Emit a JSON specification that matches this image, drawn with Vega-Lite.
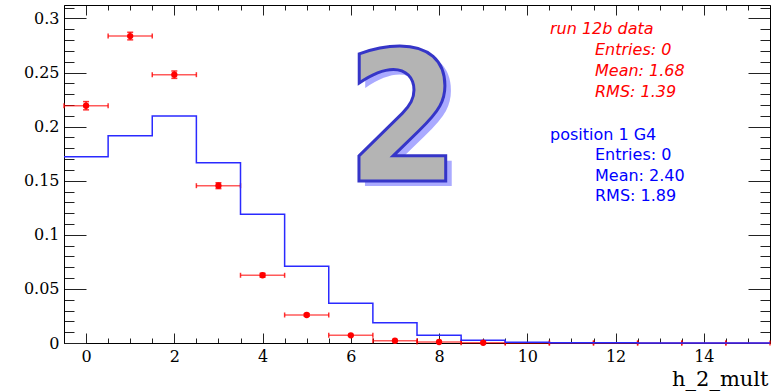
{
  "$schema": "https://vega.github.io/schema/vega-lite/v6.json",
  "width": 706,
  "height": 338,
  "autosize": {"type": "none"},
  "padding": {"left": 64, "top": 5, "right": 12, "bottom": 49},
  "background": "white",
  "datasets": {
    "bins": [
      {"bin": 0, "lo": -0.5, "hi": 0.5, "data": 0.2193, "dlo": 0.2155, "dhi": 0.2231, "g4": 0.1722},
      {"bin": 1, "lo": 0.5, "hi": 1.5, "data": 0.2837, "dlo": 0.2802, "dhi": 0.2872, "g4": 0.1916},
      {"bin": 2, "lo": 1.5, "hi": 2.5, "data": 0.2480, "dlo": 0.2446, "dhi": 0.2514, "g4": 0.2098},
      {"bin": 3, "lo": 2.5, "hi": 3.5, "data": 0.1454, "dlo": 0.1427, "dhi": 0.1481, "g4": 0.1666},
      {"bin": 4, "lo": 3.5, "hi": 4.5, "data": 0.0626, "dlo": 0.0608, "dhi": 0.0644, "g4": 0.1189},
      {"bin": 5, "lo": 4.5, "hi": 5.5, "data": 0.0259, "dlo": 0.0247, "dhi": 0.0271, "g4": 0.0709},
      {"bin": 6, "lo": 5.5, "hi": 6.5, "data": 0.0071, "dlo": 0.0065, "dhi": 0.0077, "g4": 0.0367},
      {"bin": 7, "lo": 6.5, "hi": 7.5, "data": 0.0021, "dlo": 0.0018, "dhi": 0.0024, "g4": 0.0188},
      {"bin": 8, "lo": 7.5, "hi": 8.5, "data": 0.0009, "dlo": 0.0007, "dhi": 0.0011, "g4": 0.0071},
      {"bin": 9, "lo": 8.5, "hi": 9.5, "data": 0.0002, "dlo": 0.0001, "dhi": 0.0003, "g4": 0.0025},
      {"bin": 10, "lo": 9.5, "hi": 10.5, "data": 0, "dlo": 0, "dhi": 0, "g4": 0.0007},
      {"bin": 11, "lo": 10.5, "hi": 11.5, "data": 0, "dlo": 0, "dhi": 0, "g4": 0.0003},
      {"bin": 12, "lo": 11.5, "hi": 12.5, "data": 0, "dlo": 0, "dhi": 0, "g4": 0.0002},
      {"bin": 13, "lo": 12.5, "hi": 13.5, "data": 0, "dlo": 0, "dhi": 0, "g4": 0.0001},
      {"bin": 14, "lo": 13.5, "hi": 14.5, "data": 0, "dlo": 0, "dhi": 0, "g4": 0.0001},
      {"bin": 15, "lo": 14.5, "hi": 15.5, "data": 0, "dlo": 0, "dhi": 0, "g4": 0}
    ],
    "one": [{"note": "annotation"}]
  },
  "data": {"name": "bins"},
  "resolve": {"axis": {"x": "independent", "y": "independent"}},
  "layer": [
    {
      "mark": {"type": "rule", "color": "#ff0000", "strokeWidth": 1.5, "opacity": 0.65},
      "encoding": {
        "x": {"field": "lo", "type": "quantitative", "scale": {"domain": [-0.5, 15.5], "nice": false, "zero": false},
          "axis": {"orient": "bottom", "title": null, "labels": false, "domain": false, "tickSize": -5,
            "values": [-0.5, 0, 0.5, 1, 1.5, 2, 2.5, 3, 3.5, 4, 4.5, 5, 5.5, 6, 6.5, 7, 7.5, 8, 8.5, 9, 9.5, 10, 10.5, 11, 11.5, 12, 12.5, 13, 13.5, 14, 14.5, 15, 15.5]}},
        "x2": {"field": "hi"},
        "y": {"field": "data", "type": "quantitative", "scale": {"domain": [0, 0.3124], "nice": false, "zero": false},
          "axis": {"orient": "left", "title": null, "labels": false, "domain": false, "tickSize": -10,
            "values": [0, 0.01, 0.02, 0.03, 0.04, 0.05, 0.06, 0.07, 0.08, 0.09, 0.1, 0.11, 0.12, 0.13, 0.14, 0.15, 0.16, 0.17, 0.18, 0.19, 0.2, 0.21, 0.22, 0.23, 0.24, 0.25, 0.26, 0.27, 0.28, 0.29, 0.3, 0.31]}}
      }
    },
    {
      "mark": {"type": "tick", "orient": "vertical", "color": "#ff0000", "size": 5, "thickness": 1.5, "opacity": 0.8},
      "encoding": {
        "x": {"field": "lo", "type": "quantitative", "scale": {"domain": [-0.5, 15.5], "nice": false, "zero": false},
          "axis": {"orient": "top", "title": null, "labels": false, "domain": false, "tickSize": -5,
            "values": [-0.5, 0, 0.5, 1, 1.5, 2, 2.5, 3, 3.5, 4, 4.5, 5, 5.5, 6, 6.5, 7, 7.5, 8, 8.5, 9, 9.5, 10, 10.5, 11, 11.5, 12, 12.5, 13, 13.5, 14, 14.5, 15, 15.5]}},
        "y": {"field": "data", "type": "quantitative", "scale": {"domain": [0, 0.3124], "nice": false, "zero": false},
          "axis": {"orient": "right", "title": null, "labels": false, "domain": false, "tickSize": -10,
            "values": [0, 0.01, 0.02, 0.03, 0.04, 0.05, 0.06, 0.07, 0.08, 0.09, 0.1, 0.11, 0.12, 0.13, 0.14, 0.15, 0.16, 0.17, 0.18, 0.19, 0.2, 0.21, 0.22, 0.23, 0.24, 0.25, 0.26, 0.27, 0.28, 0.29, 0.3, 0.31]}}
      }
    },
    {
      "mark": {"type": "tick", "orient": "vertical", "color": "#ff0000", "size": 5, "thickness": 1.5, "opacity": 0.8},
      "encoding": {
        "x": {"field": "hi", "type": "quantitative", "scale": {"domain": [-0.5, 15.5], "nice": false, "zero": false}, "axis": null},
        "y": {"field": "data", "type": "quantitative", "scale": {"domain": [0, 0.3124], "nice": false, "zero": false}, "axis": null}
      }
    },
    {
      "transform": [{"filter": "datum.data > 0"}],
      "mark": {"type": "rule", "color": "#ff0000", "strokeWidth": 1.5, "opacity": 0.8},
      "encoding": {
        "x": {"field": "bin", "type": "quantitative", "scale": {"domain": [-0.5, 15.5], "nice": false, "zero": false}, "axis": null},
        "y": {"field": "dlo", "type": "quantitative", "scale": {"domain": [0, 0.3124], "nice": false, "zero": false}, "axis": null},
        "y2": {"field": "dhi"}
      }
    },
    {
      "transform": [{"filter": "datum.data > 0.01"}],
      "mark": {"type": "tick", "orient": "horizontal", "color": "#ff0000", "size": 6, "thickness": 1.5, "opacity": 0.8},
      "encoding": {
        "x": {"field": "bin", "type": "quantitative", "scale": {"domain": [-0.5, 15.5], "nice": false, "zero": false}, "axis": null},
        "y": {"field": "dlo", "type": "quantitative", "scale": {"domain": [0, 0.3124], "nice": false, "zero": false}, "axis": null}
      }
    },
    {
      "transform": [{"filter": "datum.data > 0.01"}],
      "mark": {"type": "tick", "orient": "horizontal", "color": "#ff0000", "size": 6, "thickness": 1.5, "opacity": 0.8},
      "encoding": {
        "x": {"field": "bin", "type": "quantitative", "scale": {"domain": [-0.5, 15.5], "nice": false, "zero": false}, "axis": null},
        "y": {"field": "dhi", "type": "quantitative", "scale": {"domain": [0, 0.3124], "nice": false, "zero": false}, "axis": null}
      }
    },
    {
      "transform": [{"fold": ["lo", "hi"]}],
      "mark": {"type": "line", "color": "#2a2aff", "strokeWidth": 1.5},
      "encoding": {
        "x": {"field": "value", "type": "quantitative", "scale": {"domain": [-0.5, 15.5], "nice": false, "zero": false},
          "axis": {"orient": "bottom", "values": [0, 2, 4, 6, 8, 10, 12, 14], "format": "d", "tickSize": -10, "labelPadding": 15, "domain": true,
            "title": "h_2_mult", "titleFont": "DejaVu Serif", "titleFontSize": 21, "titleFontWeight": "normal", "titleColor": "#000",
            "titleAnchor": "end", "titleAlign": "right", "titleBaseline": "alphabetic", "titleX": 704, "titleY": 42}},
        "y": {"field": "g4", "type": "quantitative", "scale": {"domain": [0, 0.3124], "nice": false, "zero": false},
          "axis": {"orient": "left", "title": null, "values": [0, 0.05, 0.1, 0.15, 0.2, 0.25, 0.3], "format": "~g", "tickSize": -22, "labelPadding": 27, "domain": true}},
        "order": [{"field": "bin", "type": "quantitative"}, {"field": "key", "sort": "descending"}]
      }
    },
    {
      "transform": [{"filter": "datum.data > 0"}],
      "mark": {"type": "circle", "color": "#ff0000", "size": 40, "opacity": 1},
      "encoding": {
        "x": {"field": "bin", "type": "quantitative", "scale": {"domain": [-0.5, 15.5], "nice": false, "zero": false},
          "axis": {"orient": "top", "title": null, "labels": false, "domain": true, "tickSize": -10, "values": [0, 2, 4, 6, 8, 10, 12, 14]}},
        "y": {"field": "data", "type": "quantitative", "scale": {"domain": [0, 0.3124], "nice": false, "zero": false},
          "axis": {"orient": "right", "title": null, "labels": false, "domain": true, "tickSize": -22, "values": [0, 0.05, 0.1, 0.15, 0.2, 0.25, 0.3]}}
      }
    },
    {
      "data": {"name": "one"},
      "mark": {"type": "text", "text": "run 12b data", "font": "DejaVu Sans", "fontSize": 16, "fontStyle": "italic", "fill": "#ff0000", "align": "left", "baseline": "top"},
      "encoding": {
        "x": {"datum": 10.514, "type": "quantitative", "scale": {"domain": [-0.5, 15.5], "nice": false, "zero": false}, "axis": null},
        "y": {"datum": 0.298, "type": "quantitative", "scale": {"domain": [0, 0.3124], "nice": false, "zero": false}, "axis": null}
      }
    },
    {
      "data": {"name": "one"},
      "mark": {"type": "text", "text": ["Entries: 0", "Mean: 1.68", "RMS: 1.39"], "lineHeight": 20.8, "font": "DejaVu Sans", "fontSize": 16, "fontStyle": "italic", "fill": "#ff0000", "align": "left", "baseline": "top"},
      "encoding": {
        "x": {"datum": 11.534, "type": "quantitative", "scale": {"domain": [-0.5, 15.5], "nice": false, "zero": false}, "axis": null},
        "y": {"datum": 0.278, "type": "quantitative", "scale": {"domain": [0, 0.3124], "nice": false, "zero": false}, "axis": null}
      }
    },
    {
      "data": {"name": "one"},
      "mark": {"type": "text", "text": "position 1 G4", "font": "DejaVu Sans", "fontSize": 16, "fill": "#0000ff", "align": "left", "baseline": "top"},
      "encoding": {
        "x": {"datum": 10.514, "type": "quantitative", "scale": {"domain": [-0.5, 15.5], "nice": false, "zero": false}, "axis": null},
        "y": {"datum": 0.2001, "type": "quantitative", "scale": {"domain": [0, 0.3124], "nice": false, "zero": false}, "axis": null}
      }
    },
    {
      "data": {"name": "one"},
      "mark": {"type": "text", "text": ["Entries: 0", "Mean: 2.40", "RMS: 1.89"], "lineHeight": 20.5, "font": "DejaVu Sans", "fontSize": 16, "fill": "#0000ff", "align": "left", "baseline": "top"},
      "encoding": {
        "x": {"datum": 11.534, "type": "quantitative", "scale": {"domain": [-0.5, 15.5], "nice": false, "zero": false}, "axis": null},
        "y": {"datum": 0.181, "type": "quantitative", "scale": {"domain": [0, 0.3124], "nice": false, "zero": false}, "axis": null}
      }
    },
    {
      "data": {"name": "one"},
      "mark": {"type": "text", "text": "2", "font": "DejaVu Sans Condensed", "fontWeight": "bold", "fontSize": 182, "fill": "#aaaaff", "align": "center", "baseline": "alphabetic", "dx": 6, "dy": 5},
      "encoding": {
        "x": {"datum": 7.183, "type": "quantitative", "scale": {"domain": [-0.5, 15.5], "nice": false, "zero": false}, "axis": null},
        "y": {"datum": 0.1493, "type": "quantitative", "scale": {"domain": [0, 0.3124], "nice": false, "zero": false}, "axis": null}
      }
    },
    {
      "data": {"name": "one"},
      "mark": {"type": "text", "text": "2", "font": "DejaVu Sans Condensed", "fontWeight": "bold", "fontSize": 182, "fill": "#b4b4b4", "stroke": "#3535c8", "strokeWidth": 3, "align": "center", "baseline": "alphabetic"},
      "encoding": {
        "x": {"datum": 7.183, "type": "quantitative", "scale": {"domain": [-0.5, 15.5], "nice": false, "zero": false}, "axis": null},
        "y": {"datum": 0.1493, "type": "quantitative", "scale": {"domain": [0, 0.3124], "nice": false, "zero": false}, "axis": null}
      }
    }
  ],
  "config": {
    "view": {"stroke": null},
    "axis": {"grid": false, "tickColor": "#222", "tickWidth": 1, "domainColor": "#000", "domainWidth": 1,
      "labelFont": "DejaVu Serif", "labelFontSize": 16, "labelColor": "#000", "labelFlush": false, "labelOverlap": false}
  }
}
